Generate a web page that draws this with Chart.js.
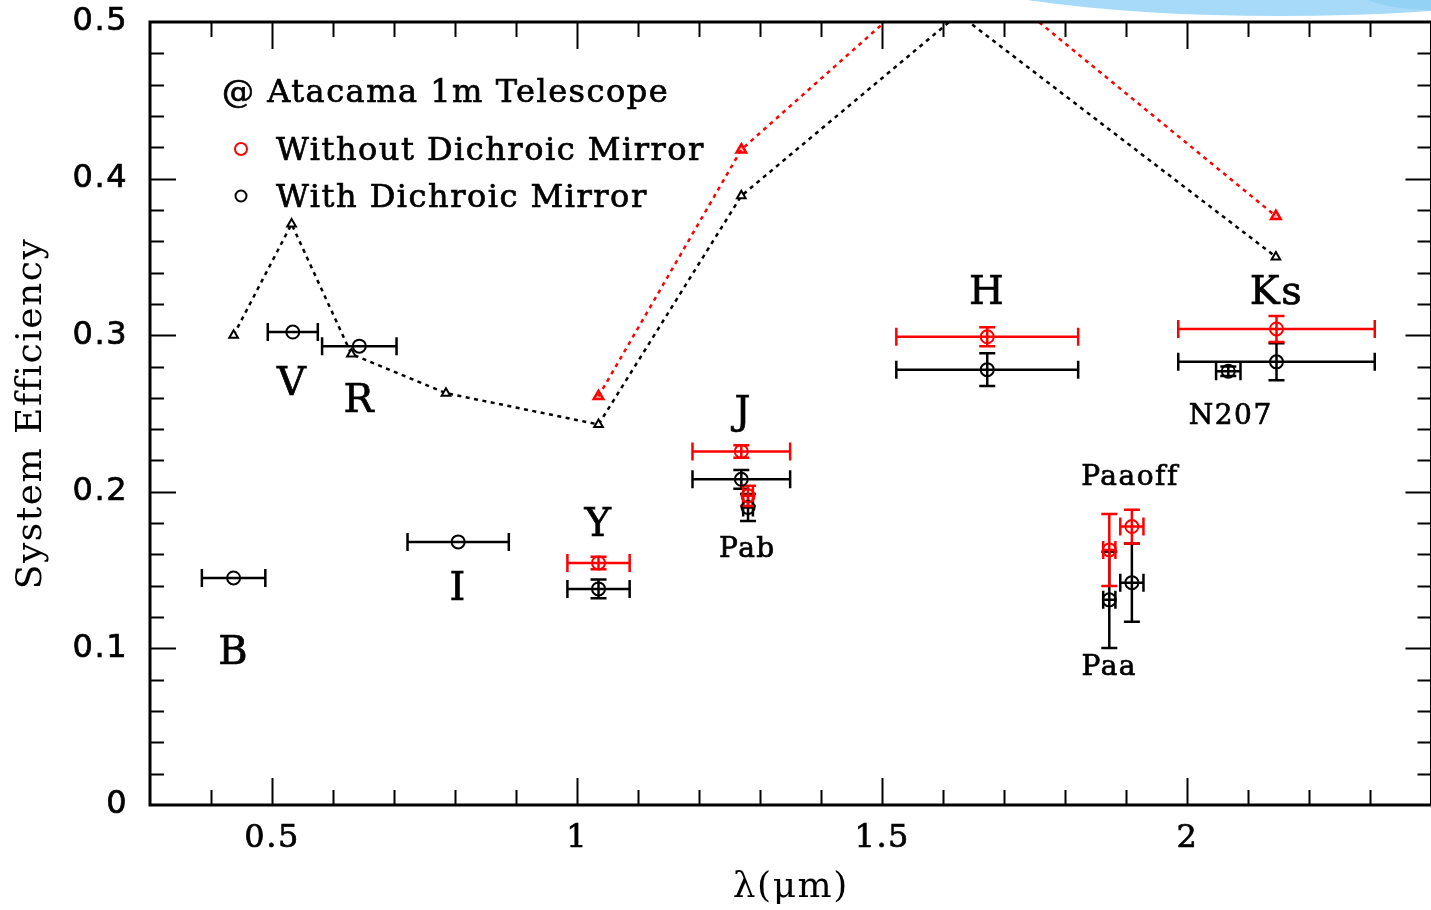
<!DOCTYPE html>
<html><head><meta charset="utf-8">
<script src="https://cdn.jsdelivr.net/npm/chart.js@4.4.0/dist/chart.umd.min.js"></script>
<style>
html,body{margin:0;padding:0;overflow:hidden;background:#fff;width:1431px;height:910px}
#wrap{position:absolute;left:0;top:0;width:1440px;height:910px}
canvas{display:block}
</style></head>
<body><div id="wrap"><canvas id="c" width="1440" height="910"></canvas></div>
<script>
// ---- data ----
// model efficiencies (triangles, dotted lines)
const modelLambdaWith    = [0.437, 0.532, 0.630, 0.785, 1.035, 1.269, 1.625, 2.145];
const modelEffWith       = [0.300, 0.371, 0.288, 0.263, 0.243, 0.389, 0.505, 0.350];
const modelLambdaWithout = [1.035, 1.269, 1.625, 2.145];
const modelEffWithout    = [0.261, 0.4185, 0.542, 0.376];

// measured, with dichroic mirror (black)
const bandsWith     = ['B','V','R','I','Y','J','Pab','H','N207','Ks','Paa','Paaoff'];
const lambdaWith    = [0.437,0.534,0.643,0.805,1.035,1.269,1.280,1.672,2.067,2.146,1.872,1.909];
const effWith       = [0.145,0.302,0.293,0.168,0.138,0.208,0.190,0.278,0.277,0.283,0.131,0.142];
const lambdaErrWith = [0.052,0.041,0.061,0.083,0.051,0.080,0.008,0.149,0.020,0.161,0.010,0.019];
const effErrWith    = [0,0,0,0,0.006,0.006,0.0086,0.0105,0.003,0.0118,0.0307,0.025];

// measured, without dichroic mirror (red)
const bandsWithout     = ['Y','J','Pab','H','Ks','Paa','Paaoff'];
const lambdaWithout    = [1.035,1.269,1.280,1.672,2.146,1.872,1.909];
const effWithout       = [0.1546,0.2258,0.1974,0.299,0.304,0.1629,0.1778];
const lambdaErrWithout = [0.051,0.080,0.008,0.149,0.161,0.010,0.019];
const effErrWithout    = [0.004,0.004,0.0064,0.006,0.0083,0.023,0.0108];

// ticks
const xTickValues = [0.5, 1, 1.5, 2];
const yTickValues = [0, 0.1, 0.2, 0.3, 0.4, 0.5];

// text annotations (anchored in data coordinates)
const bandLabels = ['B','V','R','I','Y','J','H','Ks'];
const bandLabelX = [0.437,0.533,0.643,0.805,1.035,1.272,1.672,2.146];
const bandLabelY = [0.098,0.270,0.259,0.139,0.180,0.251,0.328,0.328];
const lineLabels = ['Pab','N207','Paaoff','Paa'];
const lineLabelX = [1.279,2.071,1.906,1.872];
const lineLabelY = [0.164,0.249,0.210,0.089];

const legendTitle = '@ Atacama 1m Telescope';
const seriesNames = ['Without Dichroic Mirror', 'With Dichroic Mirror'];

// ---- chart ----
const FONT = '"DejaVu Serif", "Liberation Serif", serif';
const SANS = '"DejaVu Sans", "Liberation Sans", sans-serif';
const RED = '#ff0000', BLACK = '#000000';
const pts = (xs, ys) => xs.map((x, i) => ({x, y: ys[i]}));

const bgPlugin = {
  id: 'bg',
  beforeDraw(chart) {
    const ctx = chart.ctx;
    ctx.save();
    ctx.fillStyle = '#fff';
    ctx.fillRect(0, 0, chart.width, chart.height);
    // decorative slide shape (top right)
    ctx.beginPath();
    ctx.ellipse(1280, -34, 344, 50, 0, 0, Math.PI * 2);
    ctx.fillStyle = '#a7daf8';
    ctx.fill();
    ctx.beginPath();
    ctx.ellipse(1470, -40, 130, 48, -0.12, 0, Math.PI * 2);
    ctx.fillStyle = '#93d1f5';
    ctx.fill();
    ctx.restore();
    ctx.letterSpacing = '1.5px';
  }
};

function drawErrBars(chart, xs, ys, xe, ye, color) {
  const X = chart.scales.x, Y = chart.scales.y, ctx = chart.ctx;
  ctx.save();
  ctx.strokeStyle = color;
  ctx.lineWidth = 2.5;
  ctx.lineCap = 'butt';
  for (let i = 0; i < xs.length; i++) {
    const px = X.getPixelForValue(xs[i]), py = Y.getPixelForValue(ys[i]);
    if (xe[i] > 0) {
      const x0 = X.getPixelForValue(xs[i] - xe[i]), x1 = X.getPixelForValue(xs[i] + xe[i]);
      const c = 9;
      ctx.beginPath();
      ctx.moveTo(x0, py); ctx.lineTo(x1, py);
      ctx.moveTo(x0, py - c); ctx.lineTo(x0, py + c);
      ctx.moveTo(x1, py - c); ctx.lineTo(x1, py + c);
      ctx.stroke();
    }
    if (ye[i] > 0) {
      const y0 = Y.getPixelForValue(ys[i] - ye[i]), y1 = Y.getPixelForValue(ys[i] + ye[i]);
      const c = 8;
      ctx.beginPath();
      ctx.moveTo(px, y0); ctx.lineTo(px, y1);
      ctx.moveTo(px - c, y0); ctx.lineTo(px + c, y0);
      ctx.moveTo(px - c, y1); ctx.lineTo(px + c, y1);
      ctx.stroke();
    }
  }
  ctx.restore();
}

const errPlugin = {
  id: 'err',
  beforeDatasetsDraw(chart) {
    drawErrBars(chart, lambdaWith, effWith, lambdaErrWith, effErrWith, BLACK);
    drawErrBars(chart, lambdaWithout, effWithout, lambdaErrWithout, effErrWithout, RED);
  }
};

function boldText(ctx, t, x, y) {
  ctx.fillText(t, x, y);
  ctx.strokeText(t, x, y);
}

const framePlugin = {
  id: 'frame',
  afterDraw(chart) {
    const ctx = chart.ctx, a = chart.chartArea, X = chart.scales.x, Y = chart.scales.y;
    ctx.save();
    ctx.strokeStyle = '#000';
    ctx.lineWidth = 2;
    ctx.beginPath();
    // x ticks (bottom & top)
    for (let k = 4; k <= 23; k++) {
      const v = k / 10;
      const major = xTickValues.some(t => Math.abs(t - v) < 1e-9);
      const len = major ? 27 : 15;
      const px = Math.round(X.getPixelForValue(v)) + 0.5;
      ctx.moveTo(px, a.bottom); ctx.lineTo(px, a.bottom - len);
      ctx.moveTo(px, a.top); ctx.lineTo(px, a.top + len);
    }
    // y ticks (left & right)
    for (let k = 1; k < 25; k++) {
      const v = k * 0.02;
      const major = yTickValues.some(t => Math.abs(t - v) < 1e-9);
      const len = major ? 26 : 14;
      const py = Math.round(Y.getPixelForValue(v)) + 0.5;
      ctx.moveTo(a.left, py); ctx.lineTo(a.left + len, py);
      ctx.moveTo(a.right, py); ctx.lineTo(a.right - len, py);
    }
    ctx.stroke();
    ctx.lineWidth = 3;
    ctx.strokeRect(a.left, a.top, a.right - a.left, a.bottom - a.top);

    // annotations
    ctx.fillStyle = '#000';
    ctx.strokeStyle = '#000';
    ctx.lineWidth = 0.7;
    ctx.textAlign = 'center';
    ctx.textBaseline = 'middle';
    ctx.letterSpacing = '1.5px';
    ctx.font = '40px ' + FONT;
    bandLabels.forEach((t, i) => boldText(ctx, t, X.getPixelForValue(bandLabelX[i]), Y.getPixelForValue(bandLabelY[i]) + 2));
    ctx.font = '28px ' + FONT;
    lineLabels.forEach((t, i) => boldText(ctx, t, X.getPixelForValue(lineLabelX[i]), Y.getPixelForValue(lineLabelY[i]) + 2));

    // legend
    ctx.textAlign = 'left';
    ctx.font = '32px ' + FONT;
    boldText(ctx, legendTitle, 222, 94);
    boldText(ctx, seriesNames[0], 276, 152);
    boldText(ctx, seriesNames[1], 276, 199);
    ctx.lineWidth = 2;
    ctx.strokeStyle = RED;
    ctx.beginPath(); ctx.arc(241, 149, 6, 0, Math.PI * 2); ctx.stroke();
    ctx.strokeStyle = BLACK;
    ctx.beginPath(); ctx.arc(241, 196, 5.5, 0, Math.PI * 2); ctx.stroke();
    ctx.restore();
  }
};

new Chart(document.getElementById('c'), {
  type: 'scatter',
  data: {
    datasets: [
      { label: seriesNames[0], data: pts(lambdaWithout, effWithout), showLine: false,
        pointStyle: 'circle', pointRadius: 6.5, pointBorderWidth: 2,
        borderColor: RED, backgroundColor: 'rgba(0,0,0,0)' },
      { label: seriesNames[1], data: pts(lambdaWith, effWith), showLine: false,
        pointStyle: 'circle', pointRadius: 6.5, pointBorderWidth: 2,
        borderColor: BLACK, backgroundColor: 'rgba(0,0,0,0)' },
      { label: 'model without', data: pts(modelLambdaWithout, modelEffWithout), showLine: true,
        borderColor: RED, borderWidth: 2.5, borderDash: [4, 4.5], tension: 0,
        pointStyle: 'triangle', pointRadius: 5.5, pointBorderWidth: 2.5,
        pointBorderColor: RED, pointBackgroundColor: 'rgba(255,0,0,0.25)', clip: 0 },
      { label: 'model with', data: pts(modelLambdaWith, modelEffWith), showLine: true,
        borderColor: BLACK, borderWidth: 2.5, borderDash: [4, 4.5], tension: 0,
        pointStyle: 'triangle', pointRadius: 5, pointBorderWidth: 2,
        pointBorderColor: BLACK, pointBackgroundColor: '#fff', clip: 0 }
    ]
  },
  options: {
    responsive: false,
    animation: false,
    devicePixelRatio: 1,
    layout: { padding: { left: 0, right: 6, top: 22, bottom: 0 } },
    plugins: { legend: { display: false }, tooltip: { enabled: false } },
    scales: {
      x: {
        type: 'linear', min: 0.3, max: 2.4,
        afterBuildTicks: s => { s.ticks = xTickValues.map(v => ({value: v})); },
        afterFit: s => { s.height = 105; s.paddingLeft = 0; s.paddingRight = 0; },
        grid: { display: false, drawTicks: false },
        border: { display: false },
        ticks: { color: '#000', padding: 14, font: { family: FONT, size: 32 },
                 textStrokeColor: '#000', textStrokeWidth: 0.7,
                 callback: v => String(v) },
        title: { display: true, text: 'λ(μm)', color: '#000',
                 font: { family: FONT, size: 36 }, padding: { top: 0, bottom: 1 } }
      },
      y: {
        type: 'linear', min: 0, max: 0.5,
        afterBuildTicks: s => { s.ticks = yTickValues.map(v => ({value: v})); },
        afterFit: s => { s.width = 150; s.paddingTop = 0; s.paddingBottom = 0; },
        grid: { display: false, drawTicks: false },
        border: { display: false },
        ticks: { color: '#000', padding: 22, font: { family: SANS, size: 32 },
                 textStrokeColor: '#000', textStrokeWidth: 0.7,
                 callback: v => String(v) },
        title: { display: true, text: 'System Efficiency', color: '#000',
                 font: { family: FONT, size: 36 }, padding: { top: 10, bottom: 0 } }
      }
    }
  },
  plugins: [bgPlugin, errPlugin, framePlugin]
});
</script>
</body></html>
